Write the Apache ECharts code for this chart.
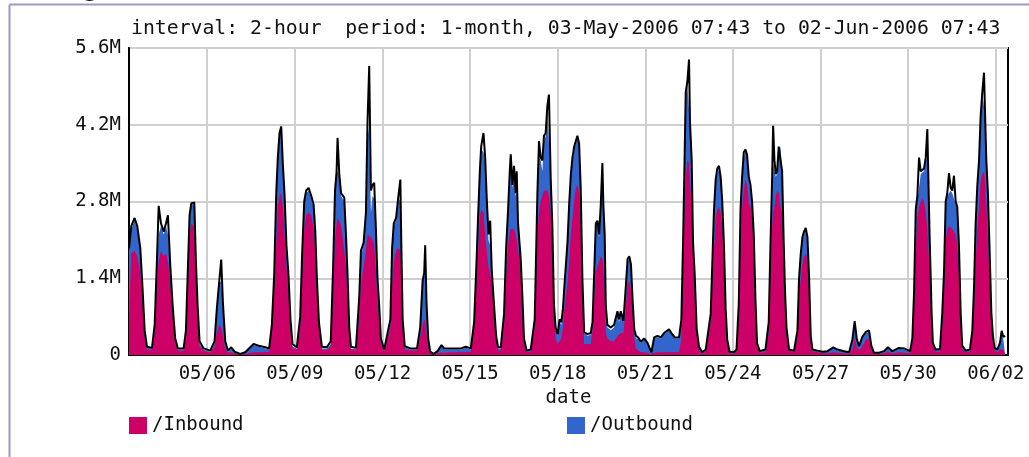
<!DOCTYPE html>
<html>
<head>
<meta charset="utf-8">
<script src="https://cdn.jsdelivr.net/npm/echarts@6/dist/echarts.min.js"></script>
<style>
html,body{margin:0;padding:0;background:#fff;}
#chart{width:1029px;height:457px;}
</style>
</head>
<body>
<div id="chart"></div>
<script>
// hours since 2006-05-03 00:00 (2-hour samples, key points)
const hours = [
  7.72, 9.6, 12.3, 14.5, 17.0, 18.9, 20.6, 22.5, 26.6,
  28.8, 30.7, 32.1, 34.0, 36.2, 38.1, 39.7, 41.6, 43.6, 45.7, 47.9, 52.6,
  54.5, 55.9, 57.5, 58.9, 61.4, 62.7, 64.1, 65.7, 69.0, 74.5,
  78.0, 79.9, 81.9, 83.5, 84.9, 86.8, 89.0, 91.7, 94.5, 99.1, 103.2, 110.1, 114.2, 119.7, 122.9,
  125.1, 127.0, 128.7, 130.0, 131.4, 132.8, 134.1, 135.5, 137.1, 138.8, 140.4, 142.1, 145.6,
  148.4, 150.0, 151.7, 153.3, 155.3, 157.5, 159.4, 160.8, 162.1, 163.8, 166.2, 170.3,
  173.5, 175.5, 177.0, 178.3, 179.1, 180.5, 182.0, 184.6, 186.0, 187.4, 188.7, 190.1, 194.2,
  196.9, 198.3, 200.5, 202.4, 203.7, 205.1, 206.5, 207.8, 209.2, 210.6, 211.9, 213.3, 214.7, 217.4,
  222.5, 223.9, 225.3, 227.2, 228.8, 230.7, 231.5, 232.6, 234.3, 238.9, 244.4,
  247.0, 249.0, 250.3, 251.1, 252.2, 253.6, 255.2, 258.0, 261.3, 264.5, 266.7, 272.2, 280.4, 284.5, 288.6,
  291.3, 293.2, 294.6, 296.0, 297.1, 299.0, 300.4, 301.7, 303.1, 304.5, 305.8, 307.7, 309.4, 311.0, 313.2,
  315.9, 317.6, 319.2, 320.6, 321.4, 322.8, 324.1, 325.5, 326.3, 327.4, 329.6, 331.0, 332.3, 334.5, 337.8,
  341.1, 343.3, 344.6, 346.0, 347.4, 348.7, 350.1, 351.5, 352.8, 354.2, 355.6, 356.9, 358.3, 360.0, 361.5, 363.0, 364.3,
  365.3, 368.0, 369.4, 370.8, 372.1, 373.5, 374.8, 376.2, 377.6, 378.9, 380.3, 381.7, 384.4, 387.1, 388.6,
  389.9, 391.3, 392.6, 394.0, 395.4, 396.7, 397.5, 398.6, 399.5, 400.8, 403.6, 406.3, 409.1, 410.4, 411.8, 414.0,
  416.1, 417.4, 418.8, 420.2, 421.5, 422.9, 424.3, 426.2, 428.3, 431.1, 433.8, 436.0, 437.0, 439.2, 442.0, 444.7, 447.4, 451.5, 453.4, 456.2, 459.7,
  461.6, 463.0, 464.1, 465.2, 466.5, 467.9, 468.7, 470.1, 471.2, 472.5, 474.2, 476.1, 478.8, 481.6,
  485.7, 487.0, 488.4, 489.8, 491.1, 492.5, 493.9, 495.2, 496.6, 498.0, 499.3, 501.2, 504.8, 506.9,
  508.8, 510.2, 511.5, 512.9, 514.3, 515.6, 517.0, 518.4, 519.7, 521.1, 522.5, 523.8, 526.0, 530.7,
  533.4, 534.8, 536.2, 537.0, 538.1, 539.2, 540.3, 541.6, 543.0, 544.4, 545.7, 546.8, 548.0, 550.1, 554.2,
  557.0, 558.3, 559.7, 561.1, 562.4, 563.8, 565.2, 566.5, 567.9, 569.3, 573.4, 577.5, 581.6, 586.5, 589.8, 595.3, 599.4, 602.1, 604.0, 605.7, 607.6, 610.3, 613.1, 615.8, 617.7, 619.9, 624.0, 628.1, 631.4, 634.9, 640.4, 644.5, 649.5,
  651.4, 652.8, 654.2, 655.5, 656.9, 658.3, 659.6, 661.0, 662.4, 663.7, 664.5, 665.6, 666.4, 667.2, 668.3, 670.5, 674.1,
  676.0, 677.4, 678.8, 680.1, 681.5, 682.9, 684.2, 685.6, 687.0, 688.3, 689.7, 691.1, 692.4, 695.2, 698.7,
  700.7, 702.1, 703.4, 704.8, 706.2, 707.5, 708.9, 710.3, 711.1, 712.2, 713.5, 714.9, 716.3, 717.6, 719.0, 721.2, 723.4, 724.8, 726.1, 727.7
];
// Inbound (M)
const inbound = [
  0.7, 1.85, 1.9, 1.8, 1.5, 0.9, 0.3, 0.1, 0.08,
  0.4, 1.3, 1.7, 1.9, 1.8, 1.85, 1.7, 1.3, 0.7, 0.2, 0.08, 0.07,
  0.3, 1.2, 2.2, 2.4, 2.35, 1.5, 0.7, 0.15, 0.08, 0.04,
  0.15, 0.4, 0.55, 0.5, 0.35, 0.1, 0.04, 0.05, 0.03, 0.01, 0.02, 0.05, 0.05, 0.05, 0.06,
  0.4, 1.2, 2.0, 2.7, 2.9, 2.95, 2.7, 2.2, 1.6, 1.1, 0.5, 0.12, 0.1,
  0.5, 1.5, 2.3, 2.55, 2.6, 2.55, 2.3, 1.9, 1.2, 0.45, 0.1, 0.09,
  0.15, 1.2, 2.1, 2.4, 2.5, 2.45, 2.35, 1.9, 1.6, 1.0, 0.35, 0.1, 0.09,
  0.7, 1.3, 1.6, 1.9, 2.2, 2.2, 2.15, 2.1, 2.0, 1.5, 1.0, 0.6, 0.2, 0.06,
  0.5, 1.3, 1.7, 1.9, 1.95, 1.9, 1.5, 0.5, 0.1, 0.08, 0.08,
  0.3, 0.55, 0.65, 0.6, 0.4, 0.12, 0.03, 0.01, 0.03, 0.05, 0.04, 0.05, 0.05, 0.05, 0.06,
  0.5, 1.3, 1.9, 2.5, 2.65, 2.6, 2.2, 1.9, 1.6, 1.5, 1.3, 0.7, 0.25, 0.08, 0.08,
  0.5, 1.4, 2.0, 2.25, 2.3, 2.3, 2.3, 2.2, 2.1, 1.9, 1.6, 0.9, 0.2, 0.05, 0.06,
  0.5, 2.2, 2.6, 2.8, 2.9, 3.0, 3.0, 3.0, 2.9, 2.6, 2.0, 0.8, 0.3, 0.2, 0.22, 0.3, 0.5,
  0.8, 1.3, 1.7, 2.2, 2.5, 2.8, 3.05, 3.1, 2.95, 2.5, 1.2, 0.2, 0.2, 0.2, 0.45,
  1.0, 1.5, 1.6, 1.6, 1.8, 1.75, 1.6, 1.2, 0.4, 0.3, 0.25, 0.25, 0.35, 0.35, 0.4, 0.4,
  0.9, 1.3, 1.35, 1.2, 0.8, 0.3, 0.12, 0.08, 0.05, 0.05, 0.04, 0.02, 0.01, 0.04, 0.05, 0.05, 0.05, 0.05, 0.05, 0.05, 0.05,
  0.3, 1.5, 2.6, 3.2, 3.55, 3.5, 3.2, 2.6, 1.9, 1.3, 0.4, 0.08, 0.02, 0.06,
  0.6, 1.2, 1.9, 2.5, 2.65, 2.7, 2.6, 2.3, 1.7, 0.7, 0.2, 0.03, 0.02, 0.06,
  0.7, 2.0, 2.7, 3.0, 3.2, 3.1, 2.8, 2.7, 2.5, 2.0, 0.9, 0.15, 0.04, 0.05,
  0.4, 1.4, 2.35, 2.6, 2.7, 2.9, 3.0, 2.95, 2.7, 2.6, 1.6, 0.9, 0.35, 0.08, 0.06,
  0.3, 1.0, 1.4, 1.65, 1.8, 1.85, 1.7, 1.2, 0.25, 0.07, 0.05, 0.03, 0.03, 0.05, 0.04, 0.03, 0.02, 0.1, 0.3, 0.15, 0.08, 0.15, 0.28, 0.3, 0.1, 0.02, 0.02, 0.03, 0.06, 0.03, 0.05, 0.04, 0.03,
  0.2, 0.8, 1.9, 2.5, 2.7, 2.8, 2.85, 2.8, 2.6, 2.3, 1.95, 1.6, 1.1, 0.6, 0.15, 0.06, 0.06,
  0.5, 1.1, 2.1, 2.3, 2.35, 2.35, 2.3, 2.3, 2.2, 2.0, 1.5, 0.65, 0.1, 0.05, 0.06,
  0.35, 0.9, 1.7, 2.3, 2.7, 3.15, 3.3, 3.35, 3.2, 2.75, 2.0, 1.45, 0.6, 0.25, 0.08, 0.05, 0.1, 0.12, 0.1, 0.1
];
// Outbound (M), stacked on top of inbound
const outbound = [
  1.2, 0.45, 0.55, 0.5, 0.4, 0.2, 0.1, 0.04, 0.04,
  0.1, 0.4, 0.5, 0.45, 0.4, 0.5, 0.5, 0.3, 0.15, 0.05, 0.02, 0.03,
  0.1, 0.2, 0.3, 0.35, 0.4, 0.15, 0.15, 0.05, 0.02, 0.02,
  0.05, 0.4, 0.75, 0.85, 0.55, 0.1, 0.02, 0.07, 0.02, 0.01, 0.02, 0.13, 0.1, 0.07, 0.04,
  0.1, 0.2, 0.9, 0.85, 1.1, 1.15, 0.7, 0.7, 0.35, 0.3, 0.1, 0.03, 0.02,
  0.15, 0.3, 0.45, 0.4, 0.4, 0.3, 0.4, 0.3, 0.15, 0.1, 0.02, 0.03,
  0.05, 0.4, 0.8, 0.9, 0.85, 0.8, 0.55, 0.9, 0.55, 0.35, 0.1, 0.02, 0.02,
  0.3, 0.5, 0.4, 0.6, 2.0, 1.8, 0.45, 0.8, 0.85, 0.7, 0.35, 0.25, 0.08, 0.02,
  0.1, 0.6, 0.65, 0.55, 0.85, 0.95, 0.45, 0.1, 0.04, 0.02, 0.02,
  0.15, 0.75, 0.8, 0.8, 0.5, 0.13, 0.02, 0.01, 0.03, 0.11, 0.06, 0.05, 0.05, 0.08, 0.04,
  0.05, 0.3, 0.6, 0.8, 1.1, 1.1, 1.3, 0.9, 0.5, 0.5, 0.2, 0.1, 0.05, 0.04, 0.04,
  0.2, 0.5, 0.6, 1.05, 1.05, 0.75, 0.9, 0.7, 0.85, 0.45, 0.1, 0.1, 0.08, 0.02, 0.03,
  0.1, 0.7, 1.0, 0.75, 0.45, 0.9, 1.0, 1.5, 1.6, 0.6, 0.3, 0.1, 0.15, 0.15, 0.38, 0.25, 0.3,
  0.35, 0.7, 1.0, 1.05, 1.05, 0.95, 0.8, 0.85, 0.85, 0.5, 0.1, 0.2, 0.15, 0.17, 0.1,
  0.4, 0.85, 0.8, 0.55, 0.9, 1.2, 1.1, 0.95, 0.45, 0.2, 0.2, 0.25, 0.4, 0.25, 0.35, 0.2,
  0.35, 0.4, 0.4, 0.4, 0.2, 0.15, 0.18, 0.22, 0.17, 0.23, 0.16, 0.06, 0.03, 0.26, 0.28, 0.25, 0.33, 0.4, 0.33, 0.25, 0.25,
  0.3, 0.5, 0.75, 1.55, 1.4, 1.45, 1.0, 0.9, 0.1, 0.15, 0.05, 0.06, 0.02, 0.03,
  0.1, 0.4, 0.7, 0.65, 0.65, 0.7, 0.6, 0.45, 0.25, 0.1, 0.05, 0.02, 0.02, 0.03,
  0.2, 0.6, 0.5, 0.6, 0.52, 0.5, 0.4, 0.3, 0.25, 0.15, 0.05, 0.05, 0.02, 0.03,
  0.15, 0.55, 0.85, 0.9, 0.8, 0.35, 0.3, 0.8, 1.1, 0.7, 0.4, 0.2, 0.1, 0.02, 0.02,
  0.12, 0.35, 0.4, 0.45, 0.4, 0.45, 0.4, 0.2, 0.05, 0.03, 0.02, 0.02, 0.03, 0.08, 0.04, 0.03, 0.02, 0.15, 0.2, 0.13, 0.07, 0.15, 0.12, 0.12, 0.05, 0.01, 0.01, 0.03, 0.06, 0.03, 0.07, 0.06, 0.03,
  0.08, 0.3, 0.7, 0.35, 0.35, 0.5, 0.45, 0.55, 0.95, 1.3, 1.25, 0.5, 0.35, 0.15, 0.05, 0.04, 0.04,
  0.22, 0.35, 0.65, 0.6, 0.6, 0.65, 0.65, 0.65, 0.55, 0.65, 0.45, 0.1, 0.05, 0.03, 0.03,
  0.07, 0.3, 0.65, 0.75, 0.8, 1.15, 1.45, 1.4, 1.2, 0.75, 0.9, 0.4, 0.15, 0.1, 0.04, 0.05, 0.1, 0.23, 0.2, 0.2
];
// Peak total (black outline, M)
const peak = [
  1.95, 2.35, 2.5, 2.35, 1.95, 1.2, 0.45, 0.15, 0.13,
  0.55, 1.75, 2.72, 2.4, 2.25, 2.4, 2.55, 1.65, 0.9, 0.3, 0.12, 0.12,
  0.45, 1.45, 2.55, 2.77, 2.78, 1.7, 0.9, 0.25, 0.12, 0.08,
  0.25, 0.85, 1.35, 1.74, 0.95, 0.25, 0.08, 0.14, 0.06, 0.02, 0.05, 0.2, 0.17, 0.14, 0.12,
  0.55, 1.45, 2.95, 3.6, 4.05, 4.17, 3.5, 2.95, 2.0, 1.45, 0.65, 0.2, 0.14,
  0.7, 1.85, 2.8, 3.0, 3.05, 2.9, 2.75, 2.25, 1.4, 0.6, 0.15, 0.14,
  0.25, 1.65, 3.0, 3.35, 3.96, 3.3, 2.95, 2.87, 2.2, 1.4, 0.5, 0.15, 0.13,
  1.05, 1.9, 2.05, 2.6, 4.25, 5.27, 3.0, 3.1, 3.14, 2.3, 1.4, 0.9, 0.3, 0.1,
  0.65, 1.95, 2.4, 2.5, 2.85, 3.2, 2.0, 0.65, 0.16, 0.12, 0.12,
  0.5, 1.35, 1.5, 2.0, 0.95, 0.3, 0.06, 0.02, 0.07, 0.18, 0.12, 0.12, 0.12, 0.15, 0.12,
  0.6, 1.65, 2.55, 3.35, 3.8, 4.05, 3.6, 2.85, 2.2, 2.45, 1.55, 0.9, 0.35, 0.14, 0.14,
  0.75, 1.95, 2.65, 3.35, 3.66, 3.1, 3.45, 2.95, 3.35, 2.4, 1.75, 1.05, 0.3, 0.08, 0.1,
  0.65, 2.95, 3.9, 3.6, 3.55, 4.0, 4.05, 4.55, 4.75, 3.25, 2.35, 0.92, 0.5, 0.38, 0.65, 0.6, 0.85,
  1.2, 2.05, 2.75, 3.3, 3.6, 3.8, 3.9, 4.0, 3.85, 3.05, 1.38, 0.42, 0.38, 0.4, 0.6,
  1.45, 2.4, 2.45, 2.2, 2.75, 3.5, 2.75, 2.2, 0.9, 0.55, 0.5, 0.55, 0.8, 0.65, 0.8, 0.62,
  1.3, 1.75, 1.8, 1.65, 1.02, 0.47, 0.35, 0.32, 0.24, 0.3, 0.22, 0.1, 0.05, 0.32, 0.35, 0.32, 0.4, 0.47, 0.4, 0.32, 0.32,
  0.65, 2.05, 3.4, 4.8, 4.98, 5.39, 4.25, 3.55, 2.05, 1.5, 0.47, 0.15, 0.05, 0.1,
  0.75, 1.65, 2.65, 3.2, 3.4, 3.45, 3.25, 2.8, 2.0, 0.85, 0.28, 0.06, 0.05, 0.1,
  0.95, 2.65, 3.25, 3.7, 3.75, 3.65, 3.25, 3.1, 2.8, 2.2, 1.0, 0.22, 0.07, 0.1,
  0.6, 2.0, 3.25, 4.18, 3.55, 3.3, 3.35, 3.8, 3.82, 3.35, 2.05, 1.15, 0.5, 0.1, 0.08,
  0.45, 1.4, 1.85, 2.15, 2.25, 2.32, 2.15, 1.45, 0.35, 0.1, 0.08, 0.06, 0.07, 0.14, 0.1, 0.07, 0.05, 0.28, 0.62, 0.3, 0.16, 0.33, 0.42, 0.45, 0.17, 0.04, 0.04, 0.07, 0.14, 0.07, 0.13, 0.12, 0.07,
  0.3, 1.15, 2.65, 2.9, 3.6, 3.35, 3.35, 3.4, 3.6, 4.12, 3.3, 2.15, 1.5, 0.78, 0.22, 0.1, 0.11,
  0.77, 1.5, 2.8, 2.95, 3.32, 3.05, 3.0, 3.27, 2.8, 2.7, 2.0, 0.77, 0.17, 0.08, 0.1,
  0.45, 1.25, 2.4, 3.1, 3.55, 4.35, 4.8, 5.15, 4.45, 3.55, 2.95, 1.9, 0.78, 0.35, 0.13, 0.1, 0.22, 0.44, 0.33, 0.35
];
const tickLabels = ['05/06','05/09','05/12','05/15','05/18','05/21','05/24','05/27','05/30','06/02'];
const tickHours = [72, 144, 216, 288, 360, 432, 504, 576, 648, 720];
const yTicks = [0, 1.4, 2.8, 4.2, 5.6];
const titleText = 'interval: 2-hour  period: 1-month, 03-May-2006 07:43 to 02-Jun-2006 07:43';

if (!(hours.length === inbound.length && inbound.length === outbound.length && outbound.length === peak.length)) {
  console.error('length mismatch', hours.length, inbound.length, outbound.length, peak.length);
}

const FONT = 'DejaVu Sans Mono';
const chart = echarts.init(document.getElementById('chart'), null, {renderer: 'canvas'});
const inboundPts = hours.map((h, i) => [h, inbound[i]]);
// outbound is drawn stacked on top of inbound (stack top = inbound + outbound)
const outboundStackPts = hours.map((h, i) => [h, +(inbound[i] + outbound[i]).toFixed(3)]);
const peakPts = hours.map((h, i) => [h, peak[i]]);

chart.setOption({
  animation: false,
  backgroundColor: '#ffffff',
  textStyle: {fontFamily: FONT},
  title: {
    text: titleText,
    left: 131, top: 19, padding: 0,
    textStyle: {fontFamily: FONT, fontSize: 19.8, fontWeight: 'normal', color: '#111'}
  },
  grid: {
    left: 129, top: 48, width: 879, height: 307,
    show: true, borderColor: '#000', borderWidth: 2, backgroundColor: '#fff'
  },
  legend: [
    {data: ['Inbound'], left: 129, top: 416, padding: 0, icon: 'rect', itemWidth: 18, itemHeight: 17, itemGap: 0,
     formatter: '/{name}', textStyle: {fontFamily: FONT, fontSize: 19, color: '#111'}, selectedMode: false},
    {data: ['Outbound'], left: 567, top: 416, padding: 0, icon: 'rect', itemWidth: 18, itemHeight: 17, itemGap: 0,
     formatter: '/{name}', textStyle: {fontFamily: FONT, fontSize: 19, color: '#111'}, selectedMode: false}
  ],
  xAxis: {
    type: 'value', min: 7.72, max: 730,
    name: 'date', nameLocation: 'middle', nameGap: 29,
    nameTextStyle: {fontFamily: FONT, fontSize: 19, color: '#111'},
    axisLine: {show: true, onZero: false, lineStyle: {color: '#000', width: 2}},
    axisTick: {show: false, customValues: tickHours},
    axisLabel: {
      customValues: tickHours, margin: 10,
      fontFamily: FONT, fontSize: 19, color: '#111',
      formatter: v => tickLabels[tickHours.indexOf(Math.round(v))] || ''
    },
    splitLine: {show: true, lineStyle: {color: '#cfcfcf', width: 2}}
  },
  yAxis: {
    type: 'value', min: 0, max: 5.6, interval: 1.4,
    axisLine: {show: true, lineStyle: {color: '#000', width: 2}},
    axisTick: {show: false},
    axisLabel: {
      margin: 8, fontFamily: FONT, fontSize: 19, color: '#111',
      formatter: v => {
        const i = yTicks.findIndex(t => Math.abs(t - v) < 1e-6);
        const t = i >= 0 ? yTicks[i] : v;
        return t === 0 ? '0' : t.toFixed(1) + 'M';
      }
    },
    splitLine: {show: true, lineStyle: {color: '#cfcfcf', width: 2}}
  },
  series: [
    {
      name: 'Outbound', type: 'line', data: outboundStackPts,
      symbol: 'none', lineStyle: {width: 0}, itemStyle: {color: '#3366cc'},
      areaStyle: {color: '#3366cc', opacity: 1, origin: 'start'}, z: 2
    },
    {
      name: 'Inbound', type: 'line', data: inboundPts,
      symbol: 'none', lineStyle: {width: 0}, itemStyle: {color: '#cc0066'},
      areaStyle: {color: '#cc0066', opacity: 1, origin: 'start'}, z: 3
    },
    {
      name: 'Peak', type: 'line', data: peakPts,
      symbol: 'none', lineStyle: {width: 2, color: '#000'}, itemStyle: {color: '#000'}, z: 4
    }
  ],
  graphic: [
    {type: 'text', left: 83, top: -20, silent: true,
     style: {text: 'g', fill: '#111', font: 'bold 22px "DejaVu Sans"'}},
    {type: 'line', shape: {x1: 9.5, y1: 4.5, x2: 1029, y2: 4.5}, style: {stroke: '#9a9ac6', lineWidth: 2}, silent: true},
    {type: 'line', shape: {x1: 9.5, y1: 4.5, x2: 9.5, y2: 457}, style: {stroke: '#9a9ac6', lineWidth: 2}, silent: true}
  ]
});
</script>
</body>
</html>
